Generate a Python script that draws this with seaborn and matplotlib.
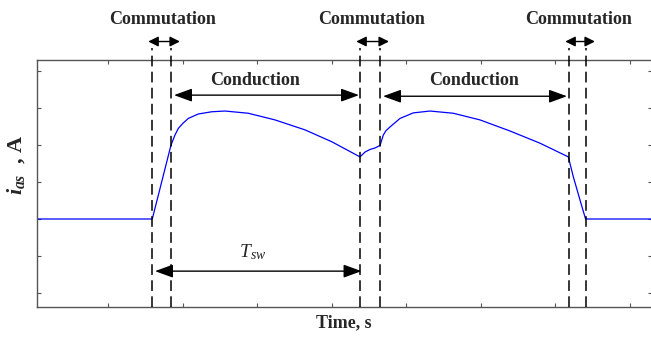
import matplotlib
matplotlib.use("Agg")
import matplotlib.pyplot as plt
import seaborn as sns
import pandas as pd

# Phase current waveform over two conduction intervals (tick units of time)
time = [-0.95, 0.594, 0.845, 0.898, 0.943, 1.006, 1.077, 1.211, 1.391, 1.569,
        1.881, 2.239, 2.642, 3.000, 3.379, 3.446, 3.513, 3.580, 3.648, 3.692,
        3.728, 3.782, 3.916, 4.094, 4.318, 4.630, 4.988, 5.391, 5.793, 6.173,
        6.240, 6.330, 6.404, 7.30]
current = [0.0, 0.0, 2.00, 2.27, 2.45, 2.59, 2.72, 2.84, 2.90, 2.92,
           2.86, 2.68, 2.41, 2.09, 1.68, 1.81, 1.88, 1.92, 1.99, 2.27,
           2.39, 2.49, 2.72, 2.87, 2.92, 2.86, 2.68, 2.38, 2.05, 1.68,
           1.14, 0.51, 0.0, 0.0]

# Commutation interval boundaries
comm_start = [0.59, 3.379, 6.182]
comm_end = [0.845, 3.648, 6.410]

x_ticks = [0, 1, 2, 3, 4, 5, 6, 7]
y_ticks = [-2, -1, 0, 1, 2, 3, 4]

sns.set_style("ticks")
plt.rcParams["font.family"] = ["Liberation Serif", "DejaVu Serif"]
plt.rcParams["mathtext.fontset"] = "custom"
plt.rcParams["mathtext.it"] = "Liberation Serif:italic:bold"
plt.rcParams["mathtext.rm"] = "Liberation Serif:bold"
plt.rcParams["mathtext.sf"] = "Liberation Serif:italic"

fig = plt.figure(figsize=(6.51, 3.37), dpi=100)
ax = fig.add_axes([37 / 651, 30 / 337, 615 / 651, 247 / 337])

df = pd.DataFrame({"t": time, "i": current})
sns.lineplot(data=df, x="t", y="i", ax=ax, color="#0000ff", lw=0.9,
             sort=False, estimator=None)

ax.set_xlim(-0.952, 7.295)
ax.set_ylim(-2.38, 4.30)
ax.set_xticks(x_ticks)
ax.set_yticks(y_ticks)
ax.set_xticklabels([])
ax.set_yticklabels([])
ax.tick_params(direction="in", length=3, width=0.8, color="#555555",
               top=True, right=True)
for sp in ax.spines.values():
    sp.set_color("#555555")
    sp.set_linewidth(1.0)

# Commutation boundaries
for xb in comm_start + comm_end:
    ax.plot([xb, xb], [-2.38, 4.62], color="black", lw=1.1,
            linestyle=(0, (7, 3.5)), clip_on=False, zorder=3)

bold = dict(fontsize=13, fontweight="bold", ha="center", va="baseline")


def arrow(x0, x1, y, hl, hw):
    ax.annotate("", xy=(x1, y), xytext=(x0, y), annotation_clip=False,
                arrowprops=dict(arrowstyle=f"<|-|>,head_length={hl},head_width={hw}",
                                color="black", lw=1.0, shrinkA=0, shrinkB=0,
                                mutation_scale=10))


for s, e in zip(comm_start, comm_end):
    mid = (s + e) / 2
    ax.text(mid + 0.02, 5.27, "Commutation", clip_on=False, **bold)
    arrow(s - 0.05, e + 0.12, 4.80, 0.6, 0.3)

# Conduction intervals
arrow(0.885, 3.366, 3.35, 1.1, 0.4)
ax.text(1.97, 3.62, "Conduction", **bold)
arrow(3.688, 6.155, 3.32, 1.1, 0.4)
ax.text(4.91, 3.62, "Conduction", **bold)

# Switching period
arrow(0.63, 3.40, -1.41, 1.1, 0.4)
ax.text(1.945, -1.03, r"$\mathsf{T}_{\mathsf{sw}}$", fontsize=14,
        ha="center", va="baseline")

ax.set_xlabel("Time, s", fontsize=13, fontweight="bold")
ax.xaxis.set_label_coords((344 - 37) / 615, -0.03, transform=ax.transAxes)
ax.xaxis.label.set_va("top")
ax.set_ylabel(r"$i_{as}$  , A", fontsize=16, fontweight="bold")
ax.yaxis.set_label_coords(-0.016, 0.575)

fig.savefig("out.png", dpi=100)
